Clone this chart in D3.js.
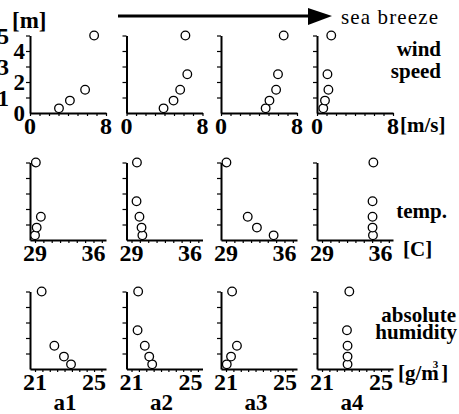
<!DOCTYPE html>
<html>
<head>
<meta charset="utf-8">
<script src="https://cdn.jsdelivr.net/npm/d3@7"></script>
</head>
<body style="margin:0">
<svg id="fig" width="459" height="414"></svg>
<script>
// sensor heights [m], same for every panel
const heights = [0.3, 0.8, 1.5, 2.5, 5.0];
const panelNames = ["a1", "a2", "a3", "a4"];

// one array per panel, in the order of heights (null = no point)
const windSpeed = [
  [3.05, 4.2, 5.8, null, 6.75],
  [3.9, 4.95, 5.65, 6.4, 6.2],
  [4.7, 5.1, 5.8, 6.0, 6.6],
  [0.66, 0.84, 1.2, 1.1, 1.5]
];
const temperature = [
  [29.0, 29.2, 29.7, null, 29.1],
  [30.3, 30.2, 29.95, 29.6, 29.65],
  [34.7, 32.7, 31.6, null, 29.05],
  [35.1, 35.05, 35.05, 35.05, 35.15]
];
const humidity = [
  [23.44, 22.96, 22.31, null, 21.45],
  [22.4, 22.2, 21.9, 21.41, 21.45],
  [21.05, 21.34, 21.74, null, 21.41],
  [22.73, 22.73, 22.73, 22.69, 22.85]
];

// tick labels
const heightLabels = [0, 1, 2, 3, 4, 5];
const windLabels = [0, 8];
const tempLabels = [29, 36];
const humLabels = [21, 25];

const FONT = "Liberation Serif";
const svg = d3.select("#fig");

// panel layout
const colX = [30, 126.5, 221, 317];
const rowBase = [113, 240, 369];
const plotW = 76, plotH = 77.5;

const y = d3.scaleLinear().domain([0, 5]).range([plotH, 0]);

const rows = [
  { data: windSpeed, x: d3.scaleLinear().domain([0, 8]).range([0, plotW]),
    ticks: d3.range(0, 9, 1), labels: windLabels },
  { data: temperature, x: d3.scaleLinear().domain([28.4, 37.5]).range([0, plotW]),
    ticks: d3.range(29, 38, 1), labels: tempLabels },
  { data: humidity, x: d3.scaleLinear().domain([20.66, 25.81]).range([0, plotW]),
    ticks: d3.range(21, 26, 0.5), labels: humLabels }
];

rows.forEach((row, r) => {
  row.data.forEach((vals, c) => {
    const g = svg.append("g")
      .attr("transform", `translate(${colX[c]},${rowBase[r] - plotH})`);

    // x axis, labels drawn separately below
    const xAxis = g.append("g")
      .attr("transform", `translate(0,${plotH})`)
      .call(d3.axisBottom(row.x)
        .tickValues(row.ticks)
        .tickSize(3)
        .tickSizeOuter(0)
        .tickFormat(""));
    xAxis.select(".domain").attr("stroke-width", 2);
    xAxis.selectAll(".tick line").attr("stroke-width", 1.2);

    g.selectAll(".xlab")
      .data(row.labels)
      .join("text")
      .attr("class", "xlab")
      .attr("x", d => row.x(d))
      .attr("y", plotH + 21)
      .attr("text-anchor", "middle")
      .style("font-family", FONT)
      .attr("font-size", 24)
      .attr("font-weight", "bold")
      .text(d => d);

    // y axis
    const yAxis = g.append("g")
      .call(d3.axisLeft(y)
        .tickValues([1, 2, 3, 4, 5])
        .tickSize(4)
        .tickSizeOuter(0)
        .tickFormat(""));
    yAxis.select(".domain").attr("stroke-width", 2);
    yAxis.selectAll(".tick line").attr("stroke-width", 1.2);

    // points
    const pts = heights.map((h, i) => ({ h, v: vals[i] })).filter(d => d.v != null);
    g.selectAll("circle")
      .data(pts)
      .join("circle")
      .attr("cx", d => row.x(d.v))
      .attr("cy", d => y(d.h))
      .attr("r", 4.3)
      .attr("fill", "#fff")
      .attr("stroke", "#000")
      .attr("stroke-width", 1.3);
  });
});

// helper for the free texts
const label = (x, yy, txt, size, bold, anchor) => svg.append("text")
  .attr("x", x).attr("y", yy)
  .attr("text-anchor", anchor || "start")
  .style("font-family", FONT)
  .attr("font-size", size)
  .attr("font-weight", bold ? "bold" : "normal")
  .text(txt);

// height labels on the first panel, staggered like the original
heightLabels.forEach(d => {
  label(d % 2 === 0 ? 25 : 9, rowBase[0] - plotH + y(d) + 8, d, 23, true, "end");
});
label(12, 28, "[m]", 23, true);

// sea breeze arrow
svg.append("line")
  .attr("x1", 118).attr("x2", 312)
  .attr("y1", 16).attr("y2", 16)
  .attr("stroke", "#000").attr("stroke-width", 3);
svg.append("path")
  .attr("d", "M308,8 L332,16 L308,25 Z")
  .attr("fill", "#000");
label(341, 24, "sea breeze", 21, false).attr("textLength", 97);

// variable names and units on the right
label(441, 56, "wind", 21, true, "end");
label(441, 78, "speed", 21, true, "end");
label(447, 218, "temp.", 21, true, "end");
label(456, 322, "absolute", 21, true, "end");
label(457, 339, "humidity", 21, true, "end");

label(400, 132, "[m/s]", 21, true);
label(403, 256, "[C]", 21, true);
const gm = label(398, 380, "", 21, true);
gm.append("tspan").text("[g/m");
gm.append("tspan").attr("dx", -6).attr("dy", -12).attr("font-size", 11).text("3");
gm.append("tspan").attr("dx", 3).attr("dy", 12).text("]");

// panel names under the last row
panelNames.forEach((d, i) => label(colX[i] + plotW / 2 - 3, 410, d, 23, true, "middle"));
</script>
</body>
</html>
